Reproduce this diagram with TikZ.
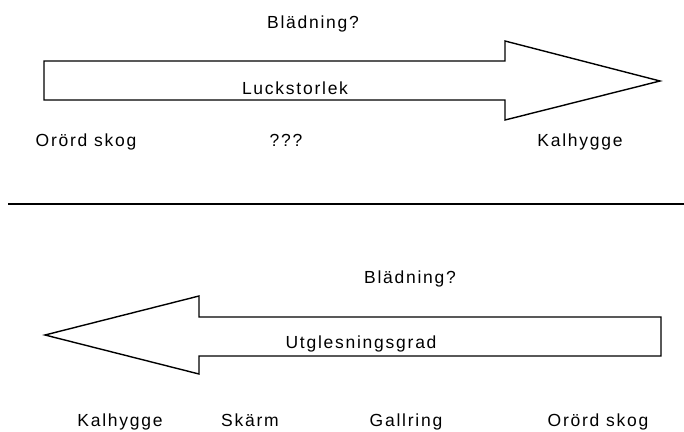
\documentclass[tikz,border=0pt]{standalone}
\usepackage{fontspec}
\setmainfont{Liberation Sans}[LetterSpace=10]
\begin{document}
\begin{tikzpicture}[x=1pt,y=-1pt,
  lbl/.style={anchor=base,inner sep=0pt,font=\fontsize{17.5}{20}\selectfont,text=black},
  arrowshape/.style={draw=black,line width=1.4pt,line join=miter,fill=white}]
\useasboundingbox (0,0) rectangle (684,431);

% upper arrow: gap size, pointing right
\draw[arrowshape] (44,61) -- (505,61) -- (505,41) -- (660,81) -- (505,120)
  -- (505,100) -- (44,100) -- cycle;
\node[lbl] (bl1) at (313,28) {Blädning?};
\node[lbl] (luck) at (295,94) {Luckstorlek};
\node[lbl] (ors1) at (86,146) {Orörd skog};
\node[lbl] (qqq) at (286,146) {???};
\node[lbl] (kal1) at (580,146) {Kalhygge};

% divider
\draw[line width=1.2pt,black] (8,204) -- (684,204);

% lower arrow: thinning degree, pointing left
\draw[arrowshape] (661,317) -- (199,317) -- (199,296) -- (45,335) -- (199,374)
  -- (199,356) -- (661,356) -- cycle;
\node[lbl] (bl2) at (410,283) {Blädning?};
\node[lbl] (utg) at (361,348) {Utglesningsgrad};
\node[lbl] (kal2) at (120,426) {Kalhygge};
\node[lbl] (skarm) at (250,426) {Skärm};
\node[lbl] (gall) at (406,426) {Gallring};
\node[lbl] (ors2) at (598,426) {Orörd skog};
\end{tikzpicture}
\end{document}
